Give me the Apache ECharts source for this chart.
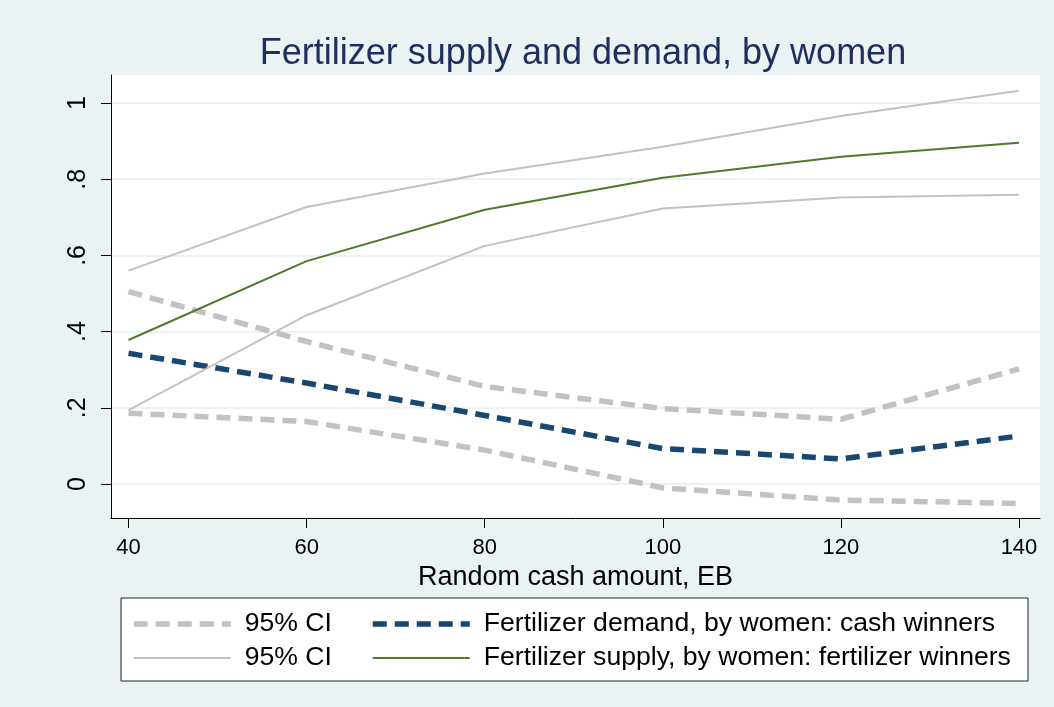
<!DOCTYPE html>
<html>
<head>
<meta charset="utf-8">
<script src="https://cdn.jsdelivr.net/npm/echarts@6/dist/echarts.min.js"></script>
<style>
  html, body { margin: 0; padding: 0; background: #eaf2f3; }
  #chart { width: 1054px; height: 707px; }
</style>
</head>
<body>
<div id="chart"></div>
<script>
// cash amounts (x)
const amounts = [40, 60, 80, 100, 120, 140];

// fertilizer demand, cash winners, with its 95% CI (dashed)
const demand = [0.343, 0.265, 0.180, 0.093, 0.066, 0.126];
const demandHi = [0.505, 0.374, 0.256, 0.198, 0.170, 0.302];
const demandLo = [0.186, 0.164, 0.089, -0.010, -0.042, -0.051];

// fertilizer supply, fertilizer winners, with its 95% CI (solid)
const supply = [0.378, 0.585, 0.720, 0.804, 0.859, 0.896];
const supplyHi = [0.560, 0.727, 0.815, 0.885, 0.966, 1.032];
const supplyLo = [0.194, 0.443, 0.625, 0.723, 0.752, 0.759];

const xTicks = [40, 60, 80, 100, 120, 140];
const yTicks = [0, 0.2, 0.4, 0.6, 0.8, 1];
const yTickLabels = ['0', '.2', '.4', '.6', '.8', '1'];

const legendNames = {
  ciDash: '95% CI',
  ciSolid: '95% CI',
  demand: 'Fertilizer demand, by women: cash winners',
  supply: 'Fertilizer supply, by women: fertilizer winners',
};

const FONT = '"Liberation Sans", Arial, sans-serif';
const CI_GRAY = '#c2c2c2';
const NAVY = '#1a476f';
const GREEN = '#4f7a2c';

const pairs = (ys) => amounts.map((x, i) => [x, ys[i]]);

function lineSeries(name, ys, color, width, dashed) {
  return {
    name,
    type: 'line',
    data: pairs(ys),
    symbol: 'none',
    silent: true,
    lineStyle: { color, width, type: dashed ? [14, 8] : 'solid', cap: 'butt' },
    itemStyle: { color },
  };
}

function legendBlock(left, names) {
  return {
    orient: 'vertical',
    left, top: 609,
    padding: 0, itemGap: 4,
    itemWidth: 97, itemHeight: 14,
    data: names,
    formatter: (n) => legendNames[n],
    selectedMode: false,
    z: 5,
    itemStyle: { opacity: 0 },
    lineStyle: { width: 'inherit', type: 'inherit' },
    textStyle: { color: '#000', fontFamily: FONT, fontSize: 26.6, lineHeight: 30, padding: [0, 0, 0, 9] },
  };
}

const chart = echarts.init(document.getElementById('chart'));

chart.setOption({
  backgroundColor: '#eaf2f3',
  animation: false,
  title: {
    text: 'Fertilizer supply and demand, by women',
    left: 578,
    top: 31,
    textAlign: 'center',
    textStyle: { color: '#1e2f5e', fontFamily: FONT, fontSize: 36, fontWeight: 'normal' },
  },
  grid: {
    left: 111, right: 14, top: 75, bottom: 189,
    show: true, backgroundColor: '#ffffff', borderWidth: 0,
    outerBoundsMode: 'none',
  },
  xAxis: {
    type: 'value',
    min: 38.03,
    max: 142.36,
    name: 'Random cash amount, EB',
    nameLocation: 'middle',
    nameGap: 40,
    nameTextStyle: { color: '#000', fontFamily: FONT, fontSize: 27 },
    axisLine: { onZero: false, lineStyle: { color: '#000', width: 1 } },
    axisTick: { customValues: xTicks, length: 10, lineStyle: { color: '#000' } },
    axisLabel: { customValues: xTicks, margin: 19, color: '#000', fontFamily: FONT, fontSize: 22 },
    splitLine: { show: false },
  },
  yAxis: {
    type: 'value',
    min: -0.0892,
    max: 1.0735,
    axisLine: { show: true, onZero: false, lineStyle: { color: '#000', width: 1 } },
    axisTick: { show: true, customValues: yTicks, length: 10, lineStyle: { color: '#000' } },
    axisLabel: {
      customValues: yTicks,
      rotate: 90,
      margin: 20,
      color: '#000',
      fontFamily: FONT,
      fontSize: 25,
      formatter: (v) => {
        let k = 0;
        yTicks.forEach((t, i) => { if (Math.abs(t - v) < Math.abs(yTicks[k] - v)) k = i; });
        return yTickLabels[k];
      },
    },
    splitLine: { show: true, lineStyle: { color: '#eaf2f3', width: 2 } },
  },
  graphic: [{
    type: 'rect',
    z: 0,
    shape: { x: 121, y: 598, width: 907, height: 83 },
    style: { fill: '#ffffff', stroke: '#222', lineWidth: 1 },
  }],
  legend: [
    legendBlock(131, ['ciDash', 'ciSolid']),
    legendBlock(370, ['demand', 'supply']),
  ],
  series: [
    lineSeries('ciDash', demandHi, CI_GRAY, 5.5, true),
    lineSeries('ciDash', demandLo, CI_GRAY, 5.5, true),
    lineSeries('demand', demand, NAVY, 5.5, true),
    lineSeries('ciSolid', supplyHi, CI_GRAY, 2, false),
    lineSeries('ciSolid', supplyLo, CI_GRAY, 2, false),
    lineSeries('supply', supply, GREEN, 2, false),
  ],
});
</script>
</body>
</html>
